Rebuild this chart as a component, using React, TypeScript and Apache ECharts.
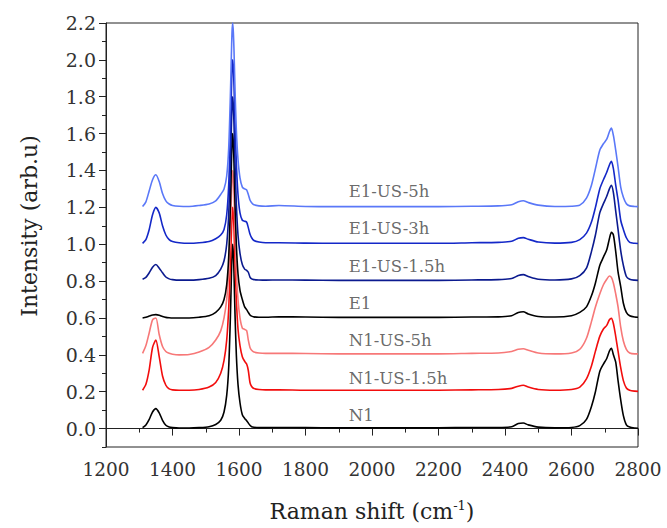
import React, { useEffect, useRef } from "react";
import * as echarts from "echarts";

// Raman shift grid (cm^-1)
const ramanShift = [1310,1320,1330,1340,1350,1360,1370,1380,1390,1400,1420,1450,1480,1510,1530,1545,1555,1563,1569,1574,1577,1579,1581,1583,1585,1588,1592,1597,1603,1610,1617,1623,1628,1633,1638,1645,1660,1680,1720,1800,1900,2000,2100,2200,2300,2380,2420,2440,2455,2470,2500,2550,2600,2625,2645,2660,2672,2685,2696,2706,2714,2720,2726,2733,2740,2748,2756,2765,2775,2790,2800];

// Intensities above each spectrum's own baseline (arb.u)
const n1 = [0.005,0.02,0.05,0.09,0.108,0.085,0.045,0.018,0.008,0.005,0.003,0.003,0.005,0.01,0.022,0.045,0.09,0.18,0.33,0.6,0.82,0.95,1.0,0.95,0.84,0.62,0.4,0.24,0.14,0.075,0.055,0.043,0.03,0.018,0.01,0.007,0.005,0.005,0.006,0.005,0.004,0.004,0.004,0.004,0.006,0.006,0.01,0.027,0.03,0.02,0.008,0.004,0.006,0.016,0.05,0.12,0.2,0.31,0.35,0.38,0.42,0.435,0.4,0.36,0.26,0.155,0.07,0.02,0.008,0.003,0.002];
const n1Us15 = [0.008,0.04,0.12,0.24,0.28,0.19,0.085,0.035,0.015,0.01,0.008,0.008,0.012,0.025,0.05,0.1,0.17,0.28,0.45,0.68,0.85,0.95,1.0,0.96,0.88,0.7,0.5,0.34,0.25,0.19,0.165,0.15,0.115,0.05,0.028,0.017,0.012,0.01,0.01,0.008,0.008,0.008,0.008,0.008,0.01,0.012,0.018,0.03,0.035,0.025,0.012,0.008,0.012,0.025,0.07,0.14,0.22,0.3,0.34,0.36,0.39,0.398,0.37,0.3,0.22,0.13,0.06,0.02,0.008,0.003,0.002];
const n1Us5 = [0.008,0.05,0.12,0.19,0.2,0.11,0.045,0.018,0.008,0.003,0.0,0.002,0.015,0.04,0.08,0.13,0.2,0.3,0.45,0.68,0.85,0.95,1.0,0.96,0.87,0.68,0.46,0.3,0.2,0.145,0.138,0.132,0.08,0.04,0.025,0.015,0.01,0.008,0.008,0.007,0.005,0.005,0.005,0.005,0.008,0.01,0.018,0.03,0.033,0.025,0.01,0.005,0.01,0.03,0.09,0.18,0.26,0.33,0.38,0.41,0.428,0.42,0.39,0.33,0.26,0.15,0.075,0.03,0.01,0.005,0.005];
const e1 = [0.0,0.004,0.01,0.016,0.018,0.015,0.008,0.003,0.001,0.0,0.0,0.0,0.004,0.012,0.03,0.06,0.1,0.18,0.33,0.6,0.82,0.95,1.0,0.95,0.84,0.62,0.4,0.24,0.15,0.1,0.06,0.045,0.03,0.016,0.01,0.006,0.004,0.004,0.006,0.005,0.003,0.003,0.003,0.003,0.005,0.006,0.012,0.03,0.034,0.022,0.008,0.005,0.012,0.03,0.06,0.12,0.19,0.285,0.33,0.37,0.43,0.465,0.45,0.36,0.25,0.17,0.08,0.03,0.012,0.005,0.004];
const e1Us15 = [0.01,0.02,0.045,0.075,0.09,0.07,0.045,0.022,0.012,0.008,0.005,0.005,0.008,0.015,0.03,0.065,0.11,0.2,0.36,0.62,0.83,0.95,1.0,0.95,0.85,0.64,0.42,0.25,0.15,0.09,0.065,0.058,0.048,0.022,0.012,0.008,0.006,0.005,0.006,0.005,0.004,0.004,0.004,0.004,0.006,0.008,0.014,0.03,0.035,0.025,0.01,0.006,0.012,0.03,0.07,0.16,0.25,0.37,0.42,0.46,0.5,0.52,0.48,0.38,0.28,0.165,0.085,0.025,0.01,0.005,0.004];
const e1Us3 = [0.005,0.025,0.08,0.16,0.2,0.17,0.1,0.05,0.025,0.015,0.008,0.005,0.008,0.015,0.03,0.05,0.08,0.16,0.32,0.6,0.82,0.95,1.0,0.96,0.86,0.66,0.44,0.27,0.17,0.13,0.125,0.12,0.09,0.055,0.035,0.02,0.012,0.008,0.008,0.006,0.005,0.005,0.005,0.005,0.008,0.01,0.016,0.032,0.036,0.027,0.012,0.006,0.01,0.025,0.06,0.12,0.2,0.3,0.35,0.39,0.43,0.45,0.41,0.32,0.24,0.13,0.08,0.035,0.01,0.005,0.004];
const e1Us5 = [0.005,0.03,0.09,0.15,0.177,0.14,0.075,0.035,0.018,0.01,0.006,0.005,0.01,0.018,0.035,0.07,0.1,0.17,0.32,0.6,0.82,0.95,1.0,0.95,0.85,0.64,0.42,0.26,0.16,0.11,0.1,0.095,0.07,0.04,0.025,0.014,0.008,0.006,0.01,0.005,0.004,0.004,0.004,0.004,0.006,0.008,0.014,0.03,0.036,0.026,0.012,0.005,0.006,0.012,0.05,0.12,0.21,0.31,0.345,0.37,0.41,0.43,0.39,0.31,0.22,0.11,0.055,0.02,0.008,0.005,0.004];

const sampleNames = ["N1", "N1-US-1.5h", "N1-US-5h", "E1", "E1-US-1.5h", "E1-US-3h", "E1-US-5h"];
const sampleSpectra = [n1, n1Us15, n1Us5, e1, e1Us15, e1Us3, e1Us5];
const baselineOffsets = [0, 0.2, 0.4, 0.6, 0.8, 1.0, 1.2];
const sampleColors = ["#000000", "#f20d0d", "#f77878", "#000000", "#0b1a8f", "#1428c8", "#5a78f8"];
const labelX = 1930;
const labelY = [0.072, 0.272, 0.476, 0.679, 0.878, 1.083, 1.286];

const yMajor = [0, 0.2, 0.4, 0.6, 0.8, 1.0, 1.2, 1.4, 1.6, 1.8, 2.0, 2.2];
const yMinor = [-0.1, 0.1, 0.3, 0.5, 0.7, 0.9, 1.1, 1.3, 1.5, 1.7, 1.9, 2.1];

const FONT = "DejaVu Serif";

export default function App() {
  const ref = useRef<HTMLDivElement>(null);
  useEffect(() => {
    if (!ref.current) return;
    const chart = echarts.init(ref.current, undefined, { renderer: "svg" });
    const lineSeries = sampleNames.map((name, i) => ({
      name,
      type: "line",
      xAxisIndex: 0,
      yAxisIndex: 0,
      showSymbol: false,
      symbol: "none",
      smooth: 0.25,
      clip: false,
      lineStyle: { color: sampleColors[i], width: 1.6 },
      data: ramanShift.map((x, k) => [x, sampleSpectra[i][k] + baselineOffsets[i]]),
    }));
    const labelSeries = {
      type: "scatter",
      xAxisIndex: 0,
      yAxisIndex: 0,
      symbolSize: 0,
      silent: true,
      data: sampleNames.map((n, i) => ({ name: n, value: [labelX, labelY[i]] })),
      label: {
        show: true,
        position: "right",
        distance: 0,
        formatter: (p: any) => p.name,
        fontFamily: FONT,
        fontSize: 16.5,
        color: "#444",
      },
    };
    chart.setOption({
      animation: false,
      backgroundColor: "#ffffff",
      textStyle: { fontFamily: FONT },
      grid: {
        left: 106,
        right: 29,
        top: 23,
        bottom: 81,
        show: true,
        borderColor: "#222",
        borderWidth: 1,
        backgroundColor: "transparent",
      },
      xAxis: {
        type: "value",
        min: 1200,
        max: 2800,
        interval: 200,
        name: "{a|Raman shift (cm}{s|-1}{a|)}",
        nameLocation: "middle",
        nameGap: 52,
        nameTextStyle: {
          fontFamily: FONT,
          rich: {
            a: { fontFamily: FONT, fontSize: 22, color: "#222" },
            s: { fontFamily: FONT, fontSize: 13, color: "#222", verticalAlign: "top", padding: [0, 0, 12, 0] },
          },
        },
        axisLine: { show: true, lineStyle: { color: "#222", width: 1 } },
        axisTick: { show: true, inside: false, length: 7, lineStyle: { color: "#222" } },
        minorTick: { show: true, splitNumber: 2, length: 4, lineStyle: { color: "#222" } },
        splitLine: { show: false },
        minorSplitLine: { show: false },
        axisLabel: { fontFamily: FONT, fontSize: 18.5, color: "#333", margin: 13, formatter: (v: number) => String(v) },
      },
      yAxis: [
        {
          type: "value",
          min: -0.1,
          max: 2.2,
          position: "left",
          name: "Intensity (arb.u)",
          nameLocation: "middle",
          nameGap: 66,
          nameTextStyle: { fontFamily: FONT, fontSize: 22, color: "#222", padding: [0, 0, 0, 18] },
          axisLine: { show: true, lineStyle: { color: "#222", width: 1 } },
          axisTick: { show: true, inside: false, length: 7, customValues: yMajor, lineStyle: { color: "#222" } },
          axisLabel: {
            fontFamily: FONT,
            fontSize: 19,
            color: "#333",
            margin: 10,
            customValues: yMajor,
            formatter: (v: number) => v.toFixed(1),
          },
          splitLine: { show: false },
        },
        {
          type: "value",
          min: -0.1,
          max: 2.2,
          position: "left",
          axisLine: { show: false },
          axisTick: { show: true, inside: false, length: 4, customValues: yMinor, lineStyle: { color: "#222" } },
          axisLabel: { show: false },
          splitLine: { show: false },
        },
      ],
      series: [...lineSeries, labelSeries],
    });
    return () => chart.dispose();
  }, []);
  return <div ref={ref} style={{ width: 667, height: 528, position: "absolute", left: 0, top: 0 }} />;
}
